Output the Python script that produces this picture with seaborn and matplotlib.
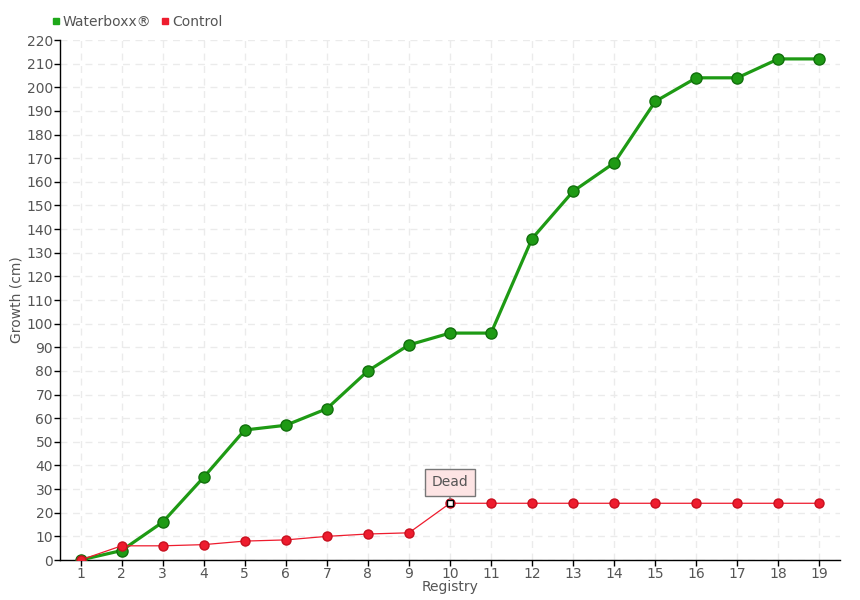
import pandas as pd
import seaborn as sns
import matplotlib.pyplot as plt

registry = list(range(1, 20))
waterboxx = [0, 4, 16, 35, 55, 57, 64, 80, 91, 96, 96, 136, 156, 168, 194, 204, 204, 212, 212]
control = [0, 6, 6, 6.5, 8, 8.5, 10, 11, 11.5, 24, 24, 24, 24, 24, 24, 24, 24, 24, 24]
y_ticks = list(range(0, 221, 10))
dead_index = 9

df = pd.DataFrame({"registry": registry, "Waterboxx®": waterboxx, "Control": control})

sns.set_theme(style="white")
plt.rcParams['font.family'] = ['DejaVu Sans']
text_color = "#555555"

fig = plt.figure(figsize=(8.6, 6), dpi=100)
ax = fig.add_axes([60 / 860, 40 / 600, 780 / 860, 520 / 600])

green = "#1e9a14"
red = "#ee1c2e"

sns.lineplot(data=df, x="registry", y="Waterboxx®", ax=ax, color=green, linewidth=2.3,
             marker="o", markersize=8, markeredgecolor="#11700c", markeredgewidth=1, zorder=3)
sns.lineplot(data=df, x="registry", y="Control", ax=ax, color=red, linewidth=0.9,
             marker="o", markersize=6.5, markeredgecolor="#c8101f", markeredgewidth=1, zorder=4)

# highlighted "Dead" point
ax.plot(registry[dead_index], control[dead_index], marker="s", markersize=4,
        markerfacecolor="white", markeredgecolor="black", markeredgewidth=1, zorder=6)
ax.annotate("Dead", xy=(registry[dead_index], control[dead_index]), xytext=(0, 15),
            textcoords="offset points", ha="center", va="center", fontsize=10, color=text_color,
            bbox=dict(boxstyle="square,pad=0.45", fc="#fde4e4", ec="#777777", lw=1),
            arrowprops=dict(arrowstyle="-", color="#777777", lw=1, shrinkA=0, shrinkB=3),
            zorder=7)

ax.set_xlim(0.5, 19.5)
ax.set_ylim(0, 220)
ax.set_xticks(registry)
ax.set_xticklabels([str(r) for r in registry])
ax.set_yticks(y_ticks)
ax.set_yticklabels([str(t) for t in y_ticks])

ax.grid(True, color="#ebebeb", linestyle=(0, (5, 4)), linewidth=1)
ax.set_axisbelow(True)
for side in ["top", "right"]:
    ax.spines[side].set_visible(False)
for side in ["left", "bottom"]:
    ax.spines[side].set_color("black")
    ax.spines[side].set_linewidth(1)

ax.tick_params(axis="both", colors=text_color, labelsize=10, length=4, width=1,
               direction="out", left=True, bottom=True, pad=1)
ax.tick_params(axis="both", color="black")

ax.set_xlabel("Registry", color=text_color, fontsize=10, labelpad=-1)
ax.set_ylabel("Growth (cm)", color=text_color, fontsize=10, labelpad=2)

ax.legend(handles=[
    plt.Line2D([], [], linestyle="none", marker="s", markersize=5, color="#1ea81a"),
    plt.Line2D([], [], linestyle="none", marker="s", markersize=5, color=red),
], labels=["Waterboxx®", "Control"], loc="lower left", bbox_to_anchor=(-0.02, 1.01),
    ncol=2, frameon=False, fontsize=10, handletextpad=0.1, columnspacing=0.6,
    handlelength=0.8, borderaxespad=0, labelcolor=text_color)

fig.savefig("out.png", dpi=100)
